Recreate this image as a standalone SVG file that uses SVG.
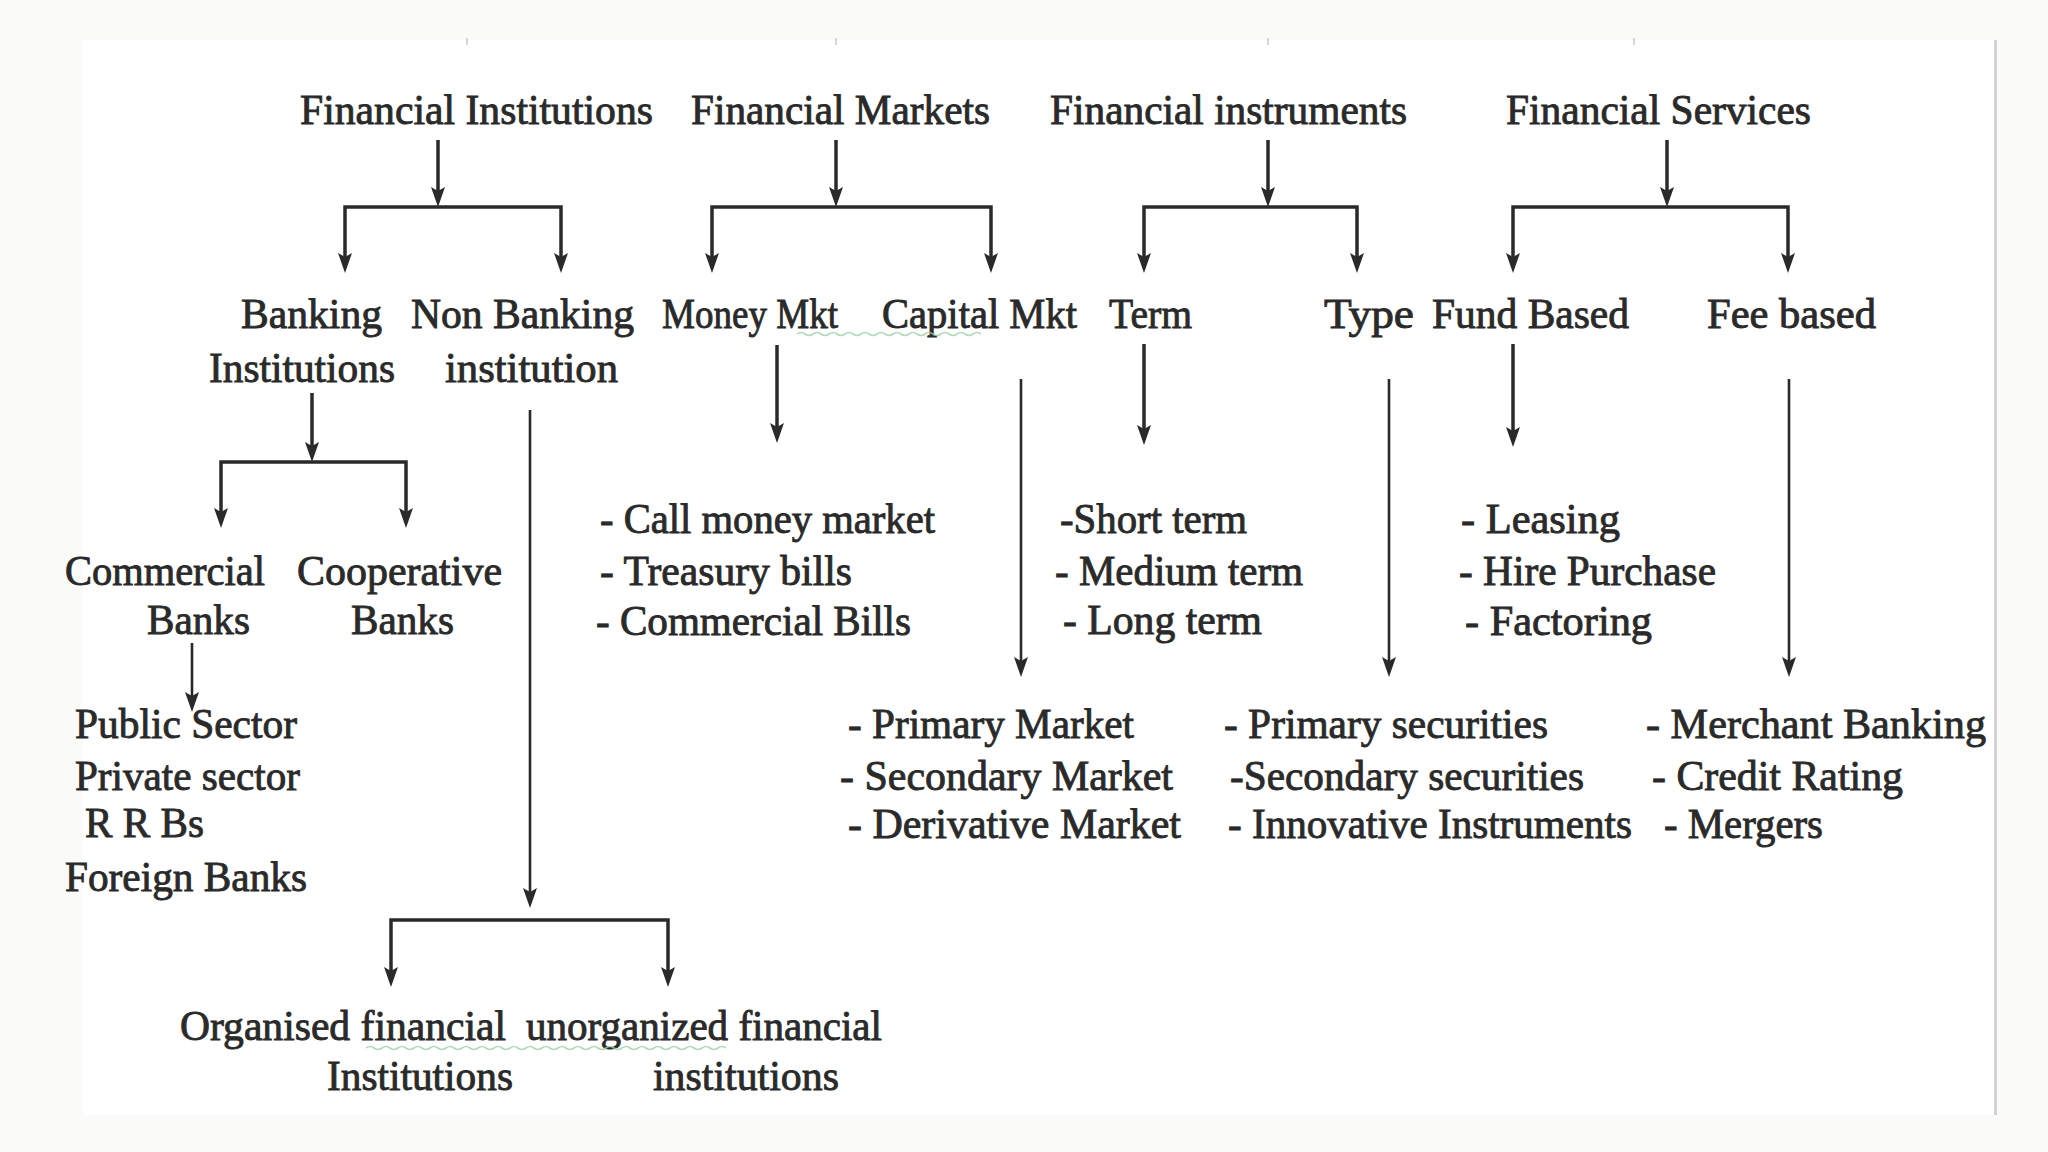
<svg xmlns="http://www.w3.org/2000/svg" width="2048" height="1152" viewBox="0 0 2048 1152">
<defs>
<style>
.t{font-family:"Liberation Serif","Times New Roman",serif;font-size:43px;fill:#2a2a2a;stroke:#2a2a2a;stroke-width:0.9px}
.c{fill:none;stroke:#2a2a2a;stroke-width:3.5;stroke-linejoin:miter}
.ct{fill:none;stroke:#2a2a2a;stroke-width:2.6}
.sq{fill:none;stroke:#9ccfa6;stroke-width:1.6;opacity:0.8}
.tick{stroke:#d6d6d6;stroke-width:2}
</style>
<marker id="ah" viewBox="0 0 20 14" markerWidth="20" markerHeight="14" refX="8" refY="7" orient="auto-start-reverse" markerUnits="userSpaceOnUse">
<path d="M0,0 L20,7 L0,14 L4,7 z" fill="#2a2a2a"/>
</marker>
</defs>
<rect x="0" y="0" width="2048" height="1152" fill="#fafaf8"/>
<rect x="83" y="40" width="1912" height="1075" fill="#ffffff"/>
<rect x="1994" y="40" width="3" height="1075" fill="#d2d2d2"/>
<g id="ticks">
<line class="tick" x1="467" y1="38" x2="467" y2="45"/>
<line class="tick" x1="836" y1="38" x2="836" y2="45"/>
<line class="tick" x1="1268" y1="38" x2="1268" y2="45"/>
<line class="tick" x1="1634" y1="38" x2="1634" y2="45"/>
</g>

<g id="connectors">
<!-- Financial Institutions -->
<line class="c" x1="438" y1="140" x2="438" y2="195" marker-end="url(#ah)"/>
<path class="c" d="M345,261 V207 H561 V261" marker-start="url(#ah)" marker-end="url(#ah)"/>
<!-- Financial Markets -->
<line class="c" x1="836" y1="140" x2="836" y2="195" marker-end="url(#ah)"/>
<path class="c" d="M712,261 V207 H991 V261" marker-start="url(#ah)" marker-end="url(#ah)"/>
<!-- Financial instruments -->
<line class="c" x1="1268" y1="140" x2="1268" y2="195" marker-end="url(#ah)"/>
<path class="c" d="M1144,261 V207 H1357 V261" marker-start="url(#ah)" marker-end="url(#ah)"/>
<!-- Financial Services -->
<line class="c" x1="1667" y1="140" x2="1667" y2="195" marker-end="url(#ah)"/>
<path class="c" d="M1513,261 V207 H1788 V261" marker-start="url(#ah)" marker-end="url(#ah)"/>
<!-- Banking Institutions -->
<line class="c" x1="312" y1="393" x2="312" y2="450" marker-end="url(#ah)"/>
<path class="c" d="M221,516 V462 H406 V516" marker-start="url(#ah)" marker-end="url(#ah)"/>
<!-- Commercial Banks -->
<line class="ct" x1="192" y1="643" x2="192" y2="700" marker-end="url(#ah)"/>
<!-- Non Banking -->
<line class="ct" x1="530" y1="410" x2="530" y2="896" marker-end="url(#ah)"/>
<path class="c" d="M391,975 V920 H668 V975" marker-start="url(#ah)" marker-end="url(#ah)"/>
<!-- Money Mkt -->
<line class="c" x1="777" y1="345" x2="777" y2="431" marker-end="url(#ah)"/>
<!-- Capital Mkt -->
<line class="ct" x1="1021" y1="379" x2="1021" y2="665" marker-end="url(#ah)"/>
<!-- Term -->
<line class="c" x1="1144" y1="344" x2="1144" y2="433" marker-end="url(#ah)"/>
<!-- Type -->
<line class="ct" x1="1389" y1="379" x2="1389" y2="665" marker-end="url(#ah)"/>
<!-- Fund Based -->
<line class="c" x1="1513" y1="344" x2="1513" y2="435" marker-end="url(#ah)"/>
<!-- Fee based -->
<line class="ct" x1="1789" y1="379" x2="1789" y2="665" marker-end="url(#ah)"/>
</g>

<g id="financial-institutions"><text class="t" x="300" y="124" textLength="353" lengthAdjust="spacingAndGlyphs">Financial Institutions</text></g>
<g id="financial-markets"><text class="t" x="691" y="124" textLength="299" lengthAdjust="spacingAndGlyphs">Financial Markets</text></g>
<g id="financial-instruments"><text class="t" x="1050" y="124" textLength="357" lengthAdjust="spacingAndGlyphs">Financial instruments</text></g>
<g id="financial-services"><text class="t" x="1506" y="124" textLength="305" lengthAdjust="spacingAndGlyphs">Financial Services</text></g>

<g id="banking-institutions">
<text class="t" x="241" y="328" textLength="141" lengthAdjust="spacingAndGlyphs">Banking</text>
<text class="t" x="209" y="382" textLength="186" lengthAdjust="spacingAndGlyphs">Institutions</text>
</g>
<g id="non-banking-institution">
<text class="t" x="411" y="328" textLength="223" lengthAdjust="spacingAndGlyphs">Non Banking</text>
<text class="t" x="445" y="382" textLength="173" lengthAdjust="spacingAndGlyphs">institution</text>
</g>
<g id="money-mkt"><text class="t" x="662" y="328" textLength="176" lengthAdjust="spacingAndGlyphs">Money Mkt</text></g>
<g id="capital-mkt"><text class="t" x="882" y="328" textLength="195" lengthAdjust="spacingAndGlyphs">Capital Mkt</text></g>
<path class="sq" d="M797,334 q4,-3 8,0 t8,0 t8,0 t8,0 t8,0 t8,0 t8,0 t8,0 t8,0 t8,0 t8,0 t8,0 t8,0 t8,0 t8,0 t8,0 t8,0 t8,0 t8,0 t8,0 t8,0 t8,0 t8,0"/>
<g id="term"><text class="t" x="1109" y="328" textLength="83" lengthAdjust="spacingAndGlyphs">Term</text></g>
<g id="type"><text class="t" x="1324" y="328" textLength="90" lengthAdjust="spacingAndGlyphs">Type</text></g>
<g id="fund-based"><text class="t" x="1432" y="328" textLength="197" lengthAdjust="spacingAndGlyphs">Fund Based</text></g>
<g id="fee-based"><text class="t" x="1707" y="328" textLength="169" lengthAdjust="spacingAndGlyphs">Fee based</text></g>

<g id="commercial-banks">
<text class="t" x="65" y="585" textLength="200" lengthAdjust="spacingAndGlyphs">Commercial</text>
<text class="t" x="147" y="634" textLength="103" lengthAdjust="spacingAndGlyphs">Banks</text>
</g>
<g id="cooperative-banks">
<text class="t" x="297" y="585" textLength="205" lengthAdjust="spacingAndGlyphs">Cooperative</text>
<text class="t" x="351" y="634" textLength="103" lengthAdjust="spacingAndGlyphs">Banks</text>
</g>
<g id="money-market-list">
<text class="t" x="600" y="533" textLength="335" lengthAdjust="spacingAndGlyphs">- Call money market</text>
<text class="t" x="600" y="585" textLength="252" lengthAdjust="spacingAndGlyphs">- Treasury bills</text>
<text class="t" x="596" y="635" textLength="315" lengthAdjust="spacingAndGlyphs">- Commercial Bills</text>
</g>
<g id="term-list">
<text class="t" x="1060" y="533" textLength="187" lengthAdjust="spacingAndGlyphs">-Short term</text>
<text class="t" x="1055" y="585" textLength="248" lengthAdjust="spacingAndGlyphs">- Medium term</text>
<text class="t" x="1063" y="634" textLength="199" lengthAdjust="spacingAndGlyphs">- Long term</text>
</g>
<g id="fund-based-list">
<text class="t" x="1461" y="533" textLength="159" lengthAdjust="spacingAndGlyphs">- Leasing</text>
<text class="t" x="1459" y="585" textLength="257" lengthAdjust="spacingAndGlyphs">- Hire Purchase</text>
<text class="t" x="1465" y="635" textLength="187" lengthAdjust="spacingAndGlyphs">- Factoring</text>
</g>

<g id="commercial-banks-list">
<text class="t" x="75" y="738" textLength="222" lengthAdjust="spacingAndGlyphs">Public Sector</text>
<text class="t" x="75" y="790" textLength="225" lengthAdjust="spacingAndGlyphs">Private sector</text>
<text class="t" x="85" y="837" textLength="119" lengthAdjust="spacingAndGlyphs">R R Bs</text>
<text class="t" x="65" y="891" textLength="242" lengthAdjust="spacingAndGlyphs">Foreign Banks</text>
</g>
<g id="capital-market-list">
<text class="t" x="848" y="738" textLength="286" lengthAdjust="spacingAndGlyphs">- Primary Market</text>
<text class="t" x="840" y="790" textLength="333" lengthAdjust="spacingAndGlyphs">- Secondary Market</text>
<text class="t" x="848" y="838" textLength="333" lengthAdjust="spacingAndGlyphs">- Derivative Market</text>
</g>
<g id="type-list">
<text class="t" x="1224" y="738" textLength="324" lengthAdjust="spacingAndGlyphs">- Primary securities</text>
<text class="t" x="1230" y="790" textLength="354" lengthAdjust="spacingAndGlyphs">-Secondary securities</text>
<text class="t" x="1228" y="838" textLength="404" lengthAdjust="spacingAndGlyphs">- Innovative Instruments</text>
</g>
<g id="fee-based-list">
<text class="t" x="1646" y="738" textLength="340" lengthAdjust="spacingAndGlyphs">- Merchant Banking</text>
<text class="t" x="1652" y="790" textLength="251" lengthAdjust="spacingAndGlyphs">- Credit Rating</text>
<text class="t" x="1664" y="838" textLength="159" lengthAdjust="spacingAndGlyphs">- Mergers</text>
</g>

<g id="organised-financial-institutions">
<text class="t" x="180" y="1040" textLength="326" lengthAdjust="spacingAndGlyphs">Organised financial</text>
<text class="t" x="327" y="1090" textLength="186" lengthAdjust="spacingAndGlyphs">Institutions</text>
</g>
<g id="unorganized-financial-institutions">
<text class="t" x="526" y="1040" textLength="356" lengthAdjust="spacingAndGlyphs">unorganized financial</text>
<text class="t" x="653" y="1090" textLength="186" lengthAdjust="spacingAndGlyphs">institutions</text>
</g>
<path class="sq" d="M366,1048 q4,-3 8,0 t8,0 t8,0 t8,0 t8,0 t8,0 t8,0 t8,0 t8,0 t8,0 t8,0 t8,0 t8,0 t8,0 t8,0 t8,0 t8,0 t8,0 t8,0 t8,0 t8,0 t8,0 t8,0 t8,0 t8,0 t8,0 t8,0 t8,0 t8,0 t8,0 t8,0 t8,0 t8,0 t8,0 t8,0 t8,0 t8,0 t8,0 t8,0 t8,0 t8,0 t8,0 t8,0 t8,0 t8,0"/>
</svg>
